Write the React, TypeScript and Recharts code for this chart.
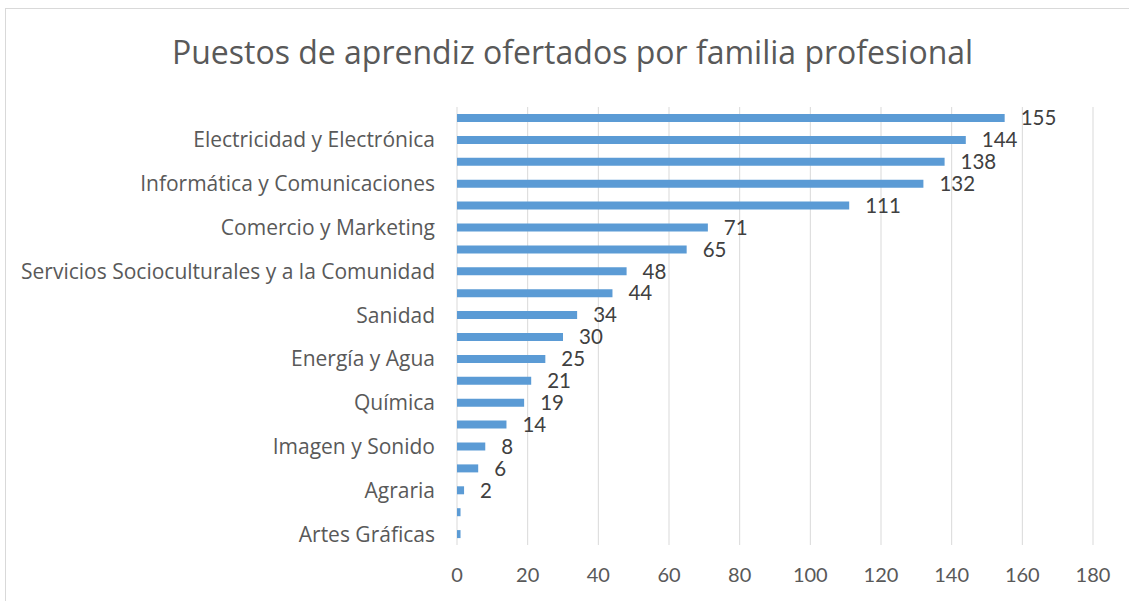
import React from "react";
import { BarChart, Bar, XAxis, YAxis, CartesianGrid, LabelList } from "recharts";

// familias profesionales, de arriba abajo (solo se rotulan las posiciones impares)
const familias = [
  "Fabricación Mecánica",
  "Electricidad y Electrónica",
  "Transporte y Mantenimiento de Vehículos",
  "Informática y Comunicaciones",
  "Administración y Gestión",
  "Comercio y Marketing",
  "Instalación y Mantenimiento",
  "Servicios Socioculturales y a la Comunidad",
  "Hostelería y Turismo",
  "Sanidad",
  "Industrias Alimentarias",
  "Energía y Agua",
  "Edificación y Obra Civil",
  "Química",
  "Imagen Personal",
  "Imagen y Sonido",
  "Actividades Físicas y Deportivas",
  "Agraria",
  "Seguridad y Medio Ambiente",
  "Artes Gráficas",
];

const puestos = [155, 144, 138, 132, 111, 71, 65, 48, 44, 34, 30, 25, 21, 19, 14, 8, 6, 2, 1, 1];

const xTicks = [0, 20, 40, 60, 80, 100, 120, 140, 160, 180];

const data = familias.map((familia, i) => ({ familia, puestos: puestos[i] }));

const NUM_FONT = "Lato, 'Open Sans', sans-serif";
const TEXT_FONT = "'Open Sans', Lato, sans-serif";

const CategoryTick = (props: any) => {
  const { x, y, payload, index } = props;
  if (index % 2 === 0) return null;
  return (
    <text
      x={x}
      y={y}
      dy="0.355em"
      textAnchor="end"
      fill="#595959"
      fontSize={21}
      fontFamily={TEXT_FONT}
    >
      {payload.value}
    </text>
  );
};

export default function App() {
  return (
    <div
      style={{
        position: "fixed",
        left: 0,
        top: 0,
        width: 1129,
        height: 601,
        overflow: "hidden",
        background: "#fff",
      }}
    >
      <div
        style={{
          position: "absolute",
          left: 5,
          top: 8,
          width: 1200,
          height: 700,
          border: "1px solid #d9d9d9",
        }}
      />
      <div
        style={{
          position: "absolute",
          left: 0,
          top: 29,
          width: 1145,
          textAlign: "center",
          fontFamily: TEXT_FONT,
          fontSize: 32,
          color: "#595959",
          lineHeight: "46px",
        }}
      >
        Puestos de aprendiz ofertados por familia profesional
      </div>
      <div style={{ position: "absolute", left: 0, top: 0 }}>
        <BarChart
          width={1129}
          height={601}
          data={data}
          layout="vertical"
          margin={{ top: 107, right: 36, bottom: 16, left: 0 }}
          barSize={8}
        >
          <CartesianGrid horizontal={false} stroke="#d9d9d9" />
          <XAxis
            type="number"
            domain={[0, 180]}
            ticks={xTicks}
            axisLine={false}
            tickLine={false}
            tickSize={6}
            tickMargin={17}
            height={40}
            tick={{ fill: "#595959", fontSize: 20, fontFamily: NUM_FONT }}
          />
          <YAxis
            type="category"
            dataKey="familia"
            width={457}
            interval={0}
            axisLine={false}
            tickLine={false}
            tickSize={6}
            tickMargin={16}
            tick={<CategoryTick />}
          />
          <Bar dataKey="puestos" fill="#5b9bd5" isAnimationActive={false}>
            <LabelList
              dataKey="puestos"
              position="right"
              offset={16}
              fill="#404040"
              fontSize={20.5}
              fontFamily={NUM_FONT}
              formatter={(v: any) => (v > 1 ? v : "")}
            />
          </Bar>
        </BarChart>
      </div>
    </div>
  );
}
